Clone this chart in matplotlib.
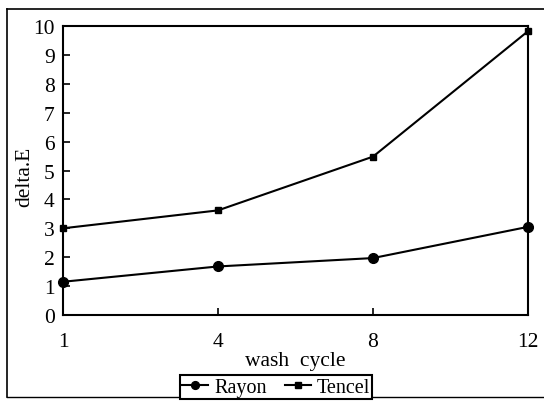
import matplotlib
matplotlib.use("Agg")
import matplotlib.pyplot as plt
from matplotlib.lines import Line2D

plt.rcParams['font.family'] = ['Liberation Serif', 'DejaVu Serif']

cycles = ["1", "4", "8", "12"]
rayon = [1.15, 1.68, 1.97, 3.05]
tencel = [3.0, 3.62, 5.48, 9.82]
yticks = list(range(0, 11))

W, H = 544, 406
fig = plt.figure(figsize=(W / 100, H / 100), dpi=100)
ax = fig.add_axes([63 / W, 1 - 316 / H, (528 - 63) / W, (316 - 27) / H])

x = list(range(len(cycles)))
ax.plot(x, rayon, color='black', lw=1.5, marker='o', ms=7, label='Rayon', clip_on=False, zorder=3)
ax.plot(x, tencel, color='black', lw=1.5, marker='s', ms=5, label='Tencel', clip_on=False, zorder=3)

ax.set_xlim(0, len(cycles) - 1)
ax.set_ylim(0, 10)
ax.set_xticks(x)
ax.set_xticklabels(cycles)
ax.set_yticks(yticks)
ax.tick_params(axis='both', direction='in', length=5, width=1.2, labelsize=15.5, colors='black')
ax.tick_params(axis='x', pad=12)
ax.tick_params(axis='y', pad=6)
for s in ax.spines.values():
    s.set_linewidth(1.5)
    s.set_color('black')

ax.set_xlabel('wash  cycle', fontsize=15.5, va='center')
ax.xaxis.set_label_coords(0.499, -0.159)
ax.set_ylabel('delta.E', fontsize=15.5, va='center')
ax.yaxis.set_label_coords(-0.082, 0.48)

# outer frame
fig.add_artist(Line2D([7 / W, 1.01], [1 - 10 / H, 1 - 10 / H], color='black', lw=1.2))
fig.add_artist(Line2D([7 / W, 7 / W], [1 - 10 / H, 1 - 398 / H], color='black', lw=1.2))
fig.add_artist(Line2D([7 / W, 1.01], [1 - 398 / H, 1 - 398 / H], color='black', lw=1.0))

leg = fig.legend(loc='center', bbox_to_anchor=(276 / W, 1 - 388 / H), ncol=2,
                 fontsize=14.5, frameon=True, fancybox=False, edgecolor='black',
                 handlelength=1.3, handletextpad=0.3, columnspacing=0.9,
                 borderpad=0.1, borderaxespad=0, markerscale=0.8)
leg.get_frame().set_linewidth(1.5)
leg.get_frame().set_alpha(1)

fig.savefig('out.png', dpi=100)
